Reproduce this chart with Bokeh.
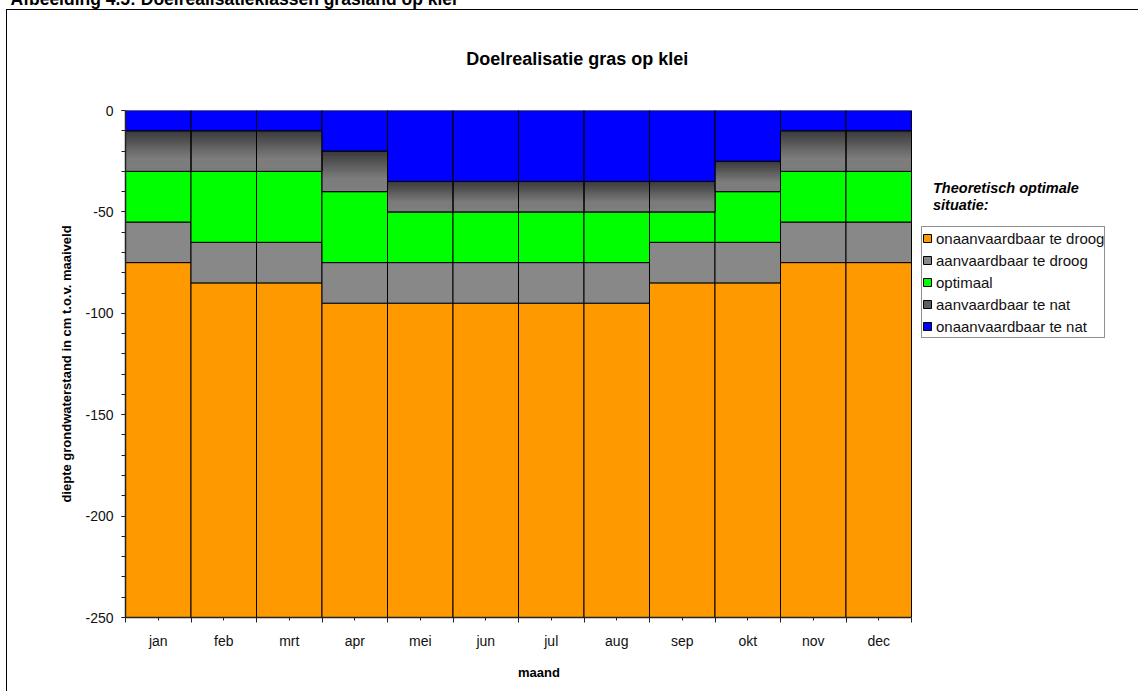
from bokeh.plotting import figure
from bokeh.models import (Range1d, Legend, LegendItem, Title, FixedTicker,
                          SingleIntervalTicker, InlineStyleSheet)
from bokeh.embed import file_html
from bokeh.resources import INLINE

# ---- data -------------------------------------------------------------
months = ["jan", "feb", "mrt", "apr", "mei", "jun", "jul", "aug", "sep", "okt", "nov", "dec"]
onder_onaanv_nat = [-10, -10, -10, -20, -35, -35, -35, -35, -35, -25, -10, -10]
onder_aanv_nat = [-30, -30, -30, -40, -50, -50, -50, -50, -50, -40, -30, -30]
onder_optimaal = [-55, -65, -65, -75, -75, -75, -75, -75, -65, -65, -55, -55]
onder_aanv_droog = [-75, -85, -85, -95, -95, -95, -95, -95, -85, -85, -75, -75]
maaiveld = [0] * 12
bodem = [-250] * 12

y_ticks_interval = 50
labels = ["onaanvaardbaar te droog", "aanvaardbaar te droog", "optimaal",
          "aanvaardbaar te nat", "onaanvaardbaar te nat"]
colors = ["#FF9900", "#888888", "#00FF00", "#5E5E5E", "#0000FF"]

FONT = "Liberation Sans"
M = 14  # canvas starts M px above the page top (so the caption is cut off)

n = len(months)
centers = [i + 0.5 for i in range(n)]          # month slots on a numeric x scale
edges = [float(i) for i in range(n + 1)]
FRAME_W, PLOT_W = 993, 786                      # frame width / width of the bar area (px)

p = figure(width=1138, height=691 + M, x_range=Range1d(0, n * FRAME_W / PLOT_W),
           y_range=Range1d(-250, 0), output_backend="svg", toolbar_location=None,
           min_border_left=125, min_border_right=1138 - 125 - FRAME_W,
           min_border_top=109 + M, min_border_bottom=74)
p.outline_line_color = None
p.xgrid.grid_line_color = None
p.ygrid.grid_line_color = None
p.background_fill_color = "white"
p.border_fill_color = "white"

W = 1.0
r_droog_onaanv = p.vbar(x=centers, top=onder_aanv_droog, bottom=bodem, width=W,
                        fill_color=colors[0], line_color="black", line_width=1)
r_droog_aanv = p.vbar(x=centers, top=onder_optimaal, bottom=onder_aanv_droog, width=W,
                      fill_color=colors[1], line_color="black", line_width=1)
r_opt = p.vbar(x=centers, top=onder_aanv_nat, bottom=onder_optimaal, width=W,
               fill_color=colors[2], line_color="black", line_width=1)
r_nat_aanv = p.vbar(x=centers, top=onder_onaanv_nat, bottom=onder_aanv_nat, width=W,
                    fill_color=colors[3], line_color="black", line_width=1)
# gradient fill for "aanvaardbaar te nat"
N = 16
gx, gt, gb, gc = [], [], [], []
for xc, t, b in zip(centers, onder_onaanv_nat, onder_aanv_nat):
    for k in range(N):
        f = k / (N - 1)
        g = min(f / 0.7, 1.0)
        c = int(round(0x3c + (0x7e - 0x3c) * g))
        gx.append(xc)
        gt.append(t + (b - t) * k / N)
        gb.append(t + (b - t) * (k + 1) / N)
        gc.append("#%02x%02x%02x" % (c, c, c))
p.vbar(x=gx, top=gt, bottom=gb, width=W, fill_color=gc, line_color=gc, line_width=0.5)
p.vbar(x=centers, top=onder_onaanv_nat, bottom=onder_aanv_nat, width=W,
       fill_color=None, line_color="black", line_width=1)
r_nat_onaanv = p.vbar(x=centers, top=maaiveld, bottom=onder_onaanv_nat, width=W,
                      fill_color=colors[4], line_color="black", line_width=1)

# ---- axes -------------------------------------------------------------
p.yaxis.ticker = SingleIntervalTicker(interval=y_ticks_interval, num_minor_ticks=5)
p.xaxis.ticker = FixedTicker(ticks=centers, minor_ticks=edges)
p.xaxis.major_label_overrides = {c: m for c, m in zip(centers, months)}
p.xaxis.bounds = (edges[0], edges[-1])
for ax in (p.xaxis[0], p.yaxis[0]):
    ax.axis_line_color = "#222222"
    ax.axis_line_width = 1.5
    ax.major_tick_line_color = "#222222"
    ax.minor_tick_line_color = "#222222"
    ax.major_tick_in = 0
    ax.minor_tick_in = 0
    ax.major_label_text_font = FONT
    ax.major_label_text_font_size = "14px"
    ax.major_label_text_color = "#111111"
    ax.axis_label_text_font = FONT
    ax.axis_label_text_font_size = "13px"
    ax.axis_label_text_font_style = "bold"
    ax.axis_label_text_color = "black"
p.yaxis.major_tick_out = 4
p.yaxis.minor_tick_out = 4
p.xaxis.major_tick_out = 3
p.xaxis.minor_tick_out = 5
p.yaxis.major_label_standoff = 8
p.yaxis.axis_label = "diepte grondwaterstand in cm t.o.v. maaiveld"
p.yaxis.axis_label_standoff = 8
p.yaxis.major_label_overrides = {v: str(v) for v in range(-250, 1, y_ticks_interval)}
# the x title sits left of the frame centre: pad it on the right with no-break spaces
p.xaxis.axis_label = "maand" + "\u00a0" * 46
p.xaxis.major_label_standoff = 10
p.xaxis.axis_label_standoff = 13

# ---- legend -----------------------------------------------------------
items = [LegendItem(label=labels[0], renderers=[r_droog_onaanv]),
         LegendItem(label=labels[1], renderers=[r_droog_aanv]),
         LegendItem(label=labels[2], renderers=[r_opt]),
         LegendItem(label=labels[3], renderers=[r_nat_aanv]),
         LegendItem(label=labels[4], renderers=[r_nat_onaanv])]
legend = Legend(items=items, location=(796, 279), orientation="vertical",
                padding=0, margin=0, spacing=0, label_height=22, glyph_height=10,
                glyph_width=10, label_standoff=4, label_text_font=FONT,
                label_text_font_size="15px", label_text_color="#111111",
                border_line_color="#222222", border_line_width=1,
                background_fill_color="white", background_fill_alpha=1)
p.add_layout(legend, "center")

# legend heading (a glyph-less legend used as a text block)
heading = Legend(items=[LegendItem(label=t, renderers=[])
                        for t in ["Theoretisch optimale", "situatie:"]],
                 location=(808, 404), orientation="vertical", padding=0, margin=0,
                 spacing=0, label_height=17, glyph_height=1, glyph_width=0,
                 label_standoff=0, label_text_font=FONT, label_text_font_size="14.5px",
                 label_text_font_style="bold italic", label_text_color="black",
                 border_line_color=None, background_fill_alpha=0)
p.add_layout(heading, "center")

# ---- titles -----------------------------------------------------------
p.add_layout(Title(text="Doelrealisatie gras op klei", align="left", offset=340.7,
                   vertical_align="top", standoff=80, text_font=FONT,
                   text_font_size="18px", text_font_style="bold",
                   text_color="black"), "above")
p.add_layout(Title(text="Afbeelding 4.5: Doelrealisatieklassen grasland op klei",
                   align="left", offset=-115, vertical_align="bottom", standoff=0,
                   text_font=FONT, text_font_size="17.5px", text_font_style="bold",
                   text_color="black"), "above")

# page offset and outer frame (top/left edges)
p.styles = {"margin-top": "-%dpx" % M}
p.stylesheets = [InlineStyleSheet(css=(
    ":host::after { content: ''; position: absolute; left: 6px; top: %dpx; "
    "right: 0px; bottom: 0px; border-left: 1.5px solid black; "
    "border-top: 1.5px solid black; pointer-events: none; z-index: 100; }") % (9 + M))]

open("out.html", "w").write(file_html(p, INLINE))
